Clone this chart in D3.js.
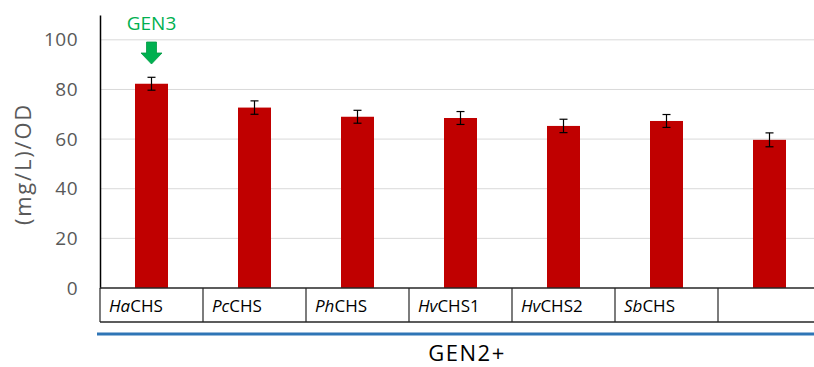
<!DOCTYPE html>
<html>
<head>
<meta charset="utf-8">
<script src="https://cdn.jsdelivr.net/npm/d3@7"></script>
<style>
  body { margin: 0; background: #fff; }
  svg { font-family: "Open Sans", "Noto Sans", sans-serif; }
</style>
</head>
<body>
<div class="canvas"></div>
<script>
// chart data
const prefixes = ['Ha', 'Pc', 'Ph', 'Hv', 'Hv', 'Sb', ''];
const suffixes = ['CHS', 'CHS', 'CHS', 'CHS1', 'CHS2', 'CHS', ''];
const values = [82.3, 72.7, 69.0, 68.5, 65.3, 67.3, 59.7];
const errors = [2.6, 2.7, 2.6, 2.6, 2.7, 2.6, 2.8];
const yTicks = [0, 20, 40, 60, 80, 100];

const svg = d3.select('.canvas')
    .append('svg')
        .attr('width', 814)
        .attr('height', 367);

const margin = {top: 15, left: 100};
const graphWidth = 721;
const graphHeight = 273;

const graph = svg.append('g')
    .attr('transform', `translate(${margin.left},${margin.top})`);

const idx = values.map((d, i) => i);

const y = d3.scaleLinear()
    .domain([0, 110])
    .range([graphHeight, 0]);

const x = d3.scaleBand()
    .domain(idx)
    .range([0, graphWidth])
    .paddingInner(0)
    .paddingOuter(0);

// gridlines
graph.selectAll('line.grid')
    .data(yTicks.filter(t => t > 0))
    .enter()
    .append('line')
        .attr('x1', 0)
        .attr('x2', graphWidth)
        .attr('y1', d => y(d))
        .attr('y2', d => y(d))
        .attr('stroke', '#d9d9d9')
        .attr('stroke-width', 1);

// y axis
const yAxis = d3.axisLeft(y).tickValues(yTicks).tickSize(0).tickPadding(22);
const yAxisGroup = graph.append('g').call(yAxis);
yAxisGroup.select('.domain').attr('stroke', '#000').attr('stroke-width', 1.5);
yAxisGroup.selectAll('text')
    .attr('fill', '#595959')
    .attr('font-family', '"Open Sans", sans-serif')
    .attr('font-size', 19)
    .attr('letter-spacing', 0.5);

// bars
const barW = 33;
graph.selectAll('rect.bar')
    .data(values)
    .enter()
    .append('rect')
        .attr('x', (d, i) => x(i) + x.bandwidth() / 2 - barW / 2)
        .attr('y', d => y(d))
        .attr('width', barW)
        .attr('height', d => graphHeight - y(d))
        .attr('fill', '#c00000');

// error bars
const eb = graph.selectAll('g.err')
    .data(values)
    .enter()
    .append('g')
        .attr('transform', (d, i) => `translate(${x(i) + x.bandwidth() / 2},0)`);
eb.append('line')
    .attr('y1', (d, i) => y(d + errors[i]))
    .attr('y2', (d, i) => y(d - errors[i]))
    .attr('stroke', '#000').attr('stroke-width', 1.2);
eb.append('line')
    .attr('x1', -4).attr('x2', 4)
    .attr('y1', (d, i) => y(d + errors[i]))
    .attr('y2', (d, i) => y(d + errors[i]))
    .attr('stroke', '#000').attr('stroke-width', 1.2);
eb.append('line')
    .attr('x1', -4).attr('x2', 4)
    .attr('y1', (d, i) => y(d - errors[i]))
    .attr('y2', (d, i) => y(d - errors[i]))
    .attr('stroke', '#000').attr('stroke-width', 1.2);

// category table
const rowH = 34;
const table = graph.append('g').attr('transform', `translate(0,${graphHeight})`);
table.append('line')
    .attr('x1', 0).attr('x2', graphWidth)
    .attr('y1', 0).attr('y2', 0)
    .attr('stroke', '#262626').attr('stroke-width', 1.5);
table.append('line')
    .attr('x1', 0).attr('x2', graphWidth)
    .attr('y1', rowH).attr('y2', rowH)
    .attr('stroke', '#262626').attr('stroke-width', 1.5);
table.selectAll('line.sep')
    .data(idx)
    .enter()
    .append('line')
        .attr('x1', d => x(d)).attr('x2', d => x(d))
        .attr('y1', 0).attr('y2', rowH)
        .attr('stroke', '#262626').attr('stroke-width', 1.2);

const labels = table.selectAll('text.cat')
    .data(idx)
    .enter()
    .append('text')
        .attr('x', d => x(d) + 9)
        .attr('y', 24)
        .attr('font-size', 17)
        .attr('fill', '#000');
labels.append('tspan')
    .attr('font-style', 'italic')
    .text(d => prefixes[d]);
labels.append('tspan')
    .text(d => suffixes[d]);

// group line and title
svg.append('line')
    .attr('x1', 97).attr('x2', 814)
    .attr('y1', 334).attr('y2', 334)
    .attr('stroke', '#2e75b6').attr('stroke-width', 3);

svg.append('text')
    .attr('x', 467)
    .attr('y', 361)
    .attr('text-anchor', 'middle')
    .attr('font-size', 22)
    .attr('letter-spacing', 1.5)
    .attr('fill', '#000')
    .text('GEN2+');

// y title
svg.append('text')
    .attr('transform', 'translate(31,164) rotate(-90)')
    .attr('text-anchor', 'middle')
    .attr('font-size', 22)
    .attr('letter-spacing', 1.8)
    .attr('fill', '#595959')
    .text('(mg/L)/OD');

// GEN3 annotation
const cx = margin.left + x(0) + x.bandwidth() / 2;
svg.append('text')
    .attr('x', cx)
    .attr('y', 30)
    .attr('text-anchor', 'middle')
    .attr('font-size', 19)
    .attr('fill', '#00b050')
    .text('GEN3');

svg.append('path')
    .attr('d', `M${cx - 5},42 L${cx + 5},42 L${cx + 5},53 L${cx + 10.5},53 L${cx},64 L${cx - 10.5},53 L${cx - 5},53 Z`)
    .attr('fill', '#00b050')
    .attr('stroke', '#009a44')
    .attr('stroke-width', 0.8);
</script>
</body>
</html>
